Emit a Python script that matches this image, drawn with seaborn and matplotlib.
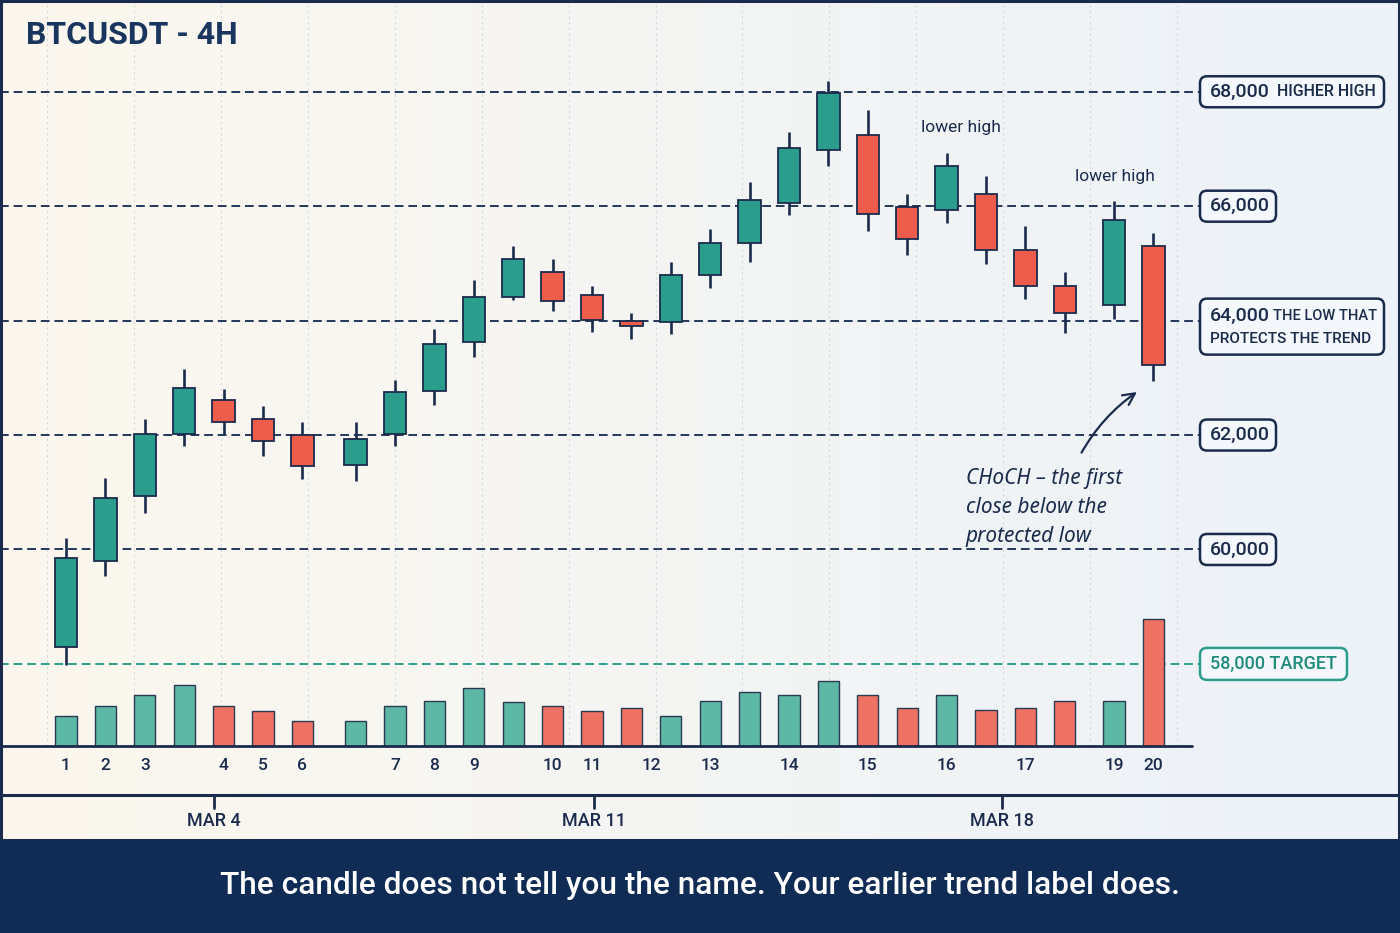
import numpy as np
import pandas as pd
import matplotlib
matplotlib.use("Agg")
import matplotlib.pyplot as plt
import seaborn as sns
from matplotlib.patches import FancyBboxPatch, Rectangle
from matplotlib.lines import Line2D
from matplotlib.transforms import IdentityTransform, blended_transform_factory
from matplotlib.colors import to_rgb

# ---------------- data ----------------
opens  = [58300, 59800, 60930, 62020, 62620, 62280, 62000, 61480, 62020, 62770,
          63620, 64410, 64850, 64440, 63990, 63980, 64790, 65350, 66060, 66990,
          67250, 65990, 65940, 66210, 65230, 64610, 64270, 65310]
highs  = [60200, 61250, 62280, 63150, 62800, 62500, 62220, 62220, 62970, 63850,
          64710, 65310, 65070, 64610, 64130, 65020, 65610, 66430, 67290, 68190,
          67680, 66210, 66930, 66520, 65650, 64850, 66090, 65540]
lows   = [57980, 59530, 60630, 61800, 62020, 61630, 61240, 61190, 61800, 62520,
          63370, 64360, 64170, 63800, 63680, 63770, 64570, 65020, 65840, 66710,
          65570, 65150, 65700, 64990, 64380, 63780, 64020, 62950]
closes = [59850, 60900, 62020, 62820, 62220, 61890, 61460, 61930, 62750, 63600,
          64410, 65070, 64350, 64010, 63900, 64790, 65350, 66110, 67010, 67980,
          65860, 65420, 66710, 65230, 64610, 64130, 65750, 63230]
volumes = [3.0, 4.0, 5.1, 6.1, 4.0, 3.5, 2.5, 2.5, 4.0, 4.5,
           5.8, 4.4, 4.0, 3.5, 3.8, 3.0, 4.5, 5.4, 5.1, 6.5,
           5.1, 3.8, 5.1, 3.6, 3.8, 4.5, 4.5, 12.7]

candle_labels = ["1", "2", "3", "4", "5", "6", "7", "8", "9", "10", "11", "12",
                 "13", "14", "15", "16", "17", "19", "20"]
label_at = [0, 1, 2, 4, 5, 6, 8, 9, 10, 12, 13, 14.5, 16, 18, 20, 22, 24, 26, 27]

date_labels = ["MAR 4", "MAR 11", "MAR 18"]
date_at = [3.76, 13.05, 23.41]

levels = [68000, 66000, 64000, 62000, 60000]
level_text = ["68,000", "66,000", "64,000", "62,000", "60,000"]
target_level = 58000
target_text = "58,000 TARGET"

title = "BTCUSDT - 4H"
caption = "The candle does not tell you the name. Your earlier trend label does."
choch_text = "CHoCH \u2013 the first\nclose below the\nprotected low"

# ---------------- style ----------------
sns.set_theme(style="white")
plt.rcParams["font.family"] = ["Roboto", "DejaVu Sans"]

NAVY = "#1B2B4B"
TITLE = "#1A355E"
UP = "#2A9D8C"
DOWN = "#EE5D4C"
VUP = "#5DB8A6"
VDOWN = "#EE7263"
TEAL_TXT = "#1F8C7C"
BANNER = "#102C55"

W, H = 1400, 933
fig = plt.figure(figsize=(W / 100, H / 100), dpi=100)

# background gradient
ax_bg = fig.add_axes([0, 0, 1, 1], zorder=-10)
c0 = np.array(to_rgb("#FCF8EF"))
c1 = np.array(to_rgb("#ECF2F9"))
t = np.linspace(0, 1, 512)
grad = (c0[None, :] * (1 - t[:, None]) + c1[None, :] * t[:, None])[None, :, :]
ax_bg.imshow(grad, aspect="auto", extent=[0, 1, 0, 1])
ax_bg.set_axis_off()

n = len(opens)
idx = np.arange(n)
slot = idx + np.where(idx >= 7, 0.35, 0.0) + np.where(idx >= 26, 0.25, 0.0)
o = np.array(opens); c = np.array(closes); hi = np.array(highs); lo = np.array(lows)
up = c >= o

# main price axes
ax = fig.add_axes([0, 1 - 746 / H, 1, 746 / H])
ax.set_facecolor("none")
x0px, pxu = 66, 39.4
ax.set_xlim(-x0px / pxu, (W - x0px) / pxu)
ax.set_ylim(56565, 69604)
ax.set_axis_off()

# faint vertical grid
for gx in np.arange(-0.48, 28.5, 2.206):
    ax.axvline(gx, color="#D5D9DE", lw=0.8, ls=(0, (2, 3)), zorder=0)

# level lines
xmax_frac = 1200 / W
for lv in levels:
    ax.axhline(lv, xmin=0, xmax=xmax_frac, color="#25375A", lw=1.4,
               ls=(0, (4.5, 2.5)), zorder=1)
ax.axhline(target_level, xmin=0, xmax=xmax_frac, color="#2E9E8C", lw=1.4,
           ls=(0, (4.5, 2.5)), zorder=1)

# candles
ax.vlines(slot, lo, hi, color=NAVY, lw=1.9, zorder=3)
ax.bar(slot, np.abs(c - o), bottom=np.minimum(o, c), width=0.57,
       color=np.where(up, UP, DOWN), edgecolor=NAVY, linewidth=1.3, zorder=4)

# lower-high labels
for i, dx in [(22, 10), (26, 1)]:
    ax.annotate("lower high", xy=(slot[i], hi[i]), xytext=(dx, 18),
                textcoords="offset points", ha="center", va="center",
                fontsize=12.5, color=NAVY)

# CHoCH annotation
ax.annotate("", xy=(slot[27] - 0.36, lo[27] - 170), xytext=(25.74, 61650),
            arrowprops=dict(arrowstyle="->,head_length=0.7,head_width=0.35",
                            color=NAVY, lw=1.6,
                            connectionstyle="arc3,rad=-0.12"), zorder=6)
ax.text(22.84, 61420, choch_text, ha="left", va="top", fontsize=15,
        style="italic", color=NAVY, linespacing=1.5,
        family=["Noto Sans", "DejaVu Sans"])

# volume axes
ax_v = fig.add_axes([0, 1 - 746 / H, 1, 146 / H])
ax_v.set_zorder(ax.get_zorder() + 1)
ax_v.set_facecolor("none")
vol_df = pd.DataFrame({"slot": slot, "volume": volumes,
                       "dir": np.where(up, "up", "down")})
sns.barplot(data=vol_df, x="slot", y="volume", hue="dir", native_scale=True,
            palette={"up": VUP, "down": VDOWN}, width=0.54, dodge=False,
            saturation=1, errorbar=None, legend=False,
            edgecolor="#2A3A50", linewidth=1.0, ax=ax_v)
ax_v.set_xlim(ax.get_xlim())
ax_v.set_ylim(0, 14.6)
ax_v.set_axis_off()

# baseline & separators
fig.add_artist(Line2D([0, 1192 / W], [1 - 746 / H] * 2, transform=fig.transFigure,
                      color=NAVY, lw=2.0, zorder=5))
fig.add_artist(Line2D([0, 1], [1 - 795 / H] * 2, transform=fig.transFigure,
                      color=NAVY, lw=2.2, zorder=5))

trans = blended_transform_factory(ax.transData, fig.transFigure)
lab_x = np.interp(label_at, idx, slot)
for lx, s in zip(lab_x, candle_labels):
    ax.text(lx, 1 - 766 / H, s, transform=trans, ha="center", va="center",
            fontsize=12.5, fontweight="medium", color=NAVY, clip_on=False)
date_x = np.interp(date_at, idx, slot)
for dx, s in zip(date_x, date_labels):
    ax.plot([dx, dx], [1 - 795 / H, 1 - 808 / H], transform=trans, color=NAVY,
            lw=2.0, clip_on=False)
    ax.text(dx, 1 - 821 / H, s, transform=trans, ha="center", va="center",
            fontsize=13, fontweight="medium", color=NAVY, clip_on=False)

# level label boxes
fig.canvas.draw()


def ydisp(v):
    return ax.transData.transform((0, v))[1]


def add_box(x0, x1, yc, h, ec):
    p = FancyBboxPatch((x0, yc - h / 2), x1 - x0, h,
                       boxstyle="round,pad=0,rounding_size=7",
                       transform=IdentityTransform(), fc="#F4F7FB", ec=ec,
                       lw=1.8, zorder=8)
    fig.add_artist(p)


box_right = [1384, 1276, 1384, 1276, 1276]
for lv, txt, xr in zip(levels, level_text, box_right):
    yd = ydisp(lv)
    if lv == 64000:
        yc = yd - 6
        add_box(1200, xr, yc, 56, NAVY)
        fig.text(1210 / W, (yd + 5) / H, txt, fontsize=14, fontweight="medium",
                 color=NAVY, va="center", ha="left", zorder=9)
        fig.text(1273 / W, (yd + 5) / H, "THE LOW THAT", fontsize=10.5,
                 fontweight="medium", color=NAVY, va="center", ha="left", zorder=9)
        fig.text(1210 / W, (yd - 18) / H, "PROTECTS THE TREND", fontsize=11,
                 fontweight="medium", color=NAVY, va="center", ha="left", zorder=9)
    else:
        add_box(1200, xr, yd, 31, NAVY)
        fig.text(1210 / W, yd / H, txt, fontsize=14, fontweight="medium",
                 color=NAVY, va="center", ha="left", zorder=9)
        if lv == 68000:
            fig.text(1277 / W, yd / H, "HIGHER HIGH", fontsize=11.5,
                     fontweight="medium", color=NAVY, va="center", ha="left",
                     zorder=9)
yd = ydisp(target_level)
add_box(1200, 1347, yd, 32, "#2E9E8C")
fig.text(1210 / W, yd / H, target_text, fontsize=13, fontweight="medium",
         color=TEAL_TXT, va="center", ha="left", zorder=9)

# title
fig.text(26 / W, 1 - 35 / H, title, fontsize=23, fontweight="bold",
         color=TITLE, va="center", ha="left")

# frame and banner
fig.add_artist(Rectangle((1, 93), W - 2.5, H - 94, transform=IdentityTransform(),
                         fill=False, ec=NAVY, lw=2.2, zorder=10))
fig.add_artist(Rectangle((0, 0), W, 93, transform=IdentityTransform(),
                         fc=BANNER, ec="none", zorder=10))
fig.text(0.5, 48 / H, caption, fontsize=22.8, fontweight="medium", color="white",
         ha="center", va="center", zorder=11)

fig.savefig("out.png", dpi=100)
